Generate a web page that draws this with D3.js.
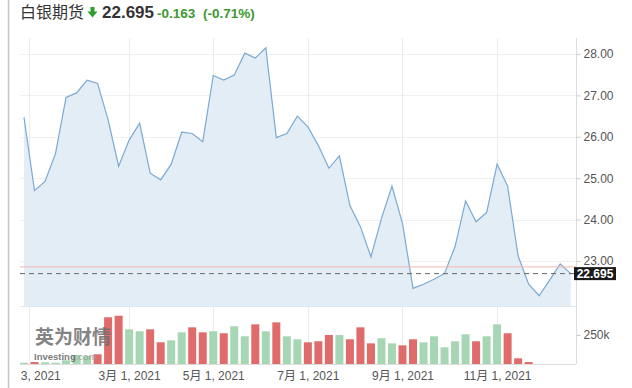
<!DOCTYPE html>
<meta charset="utf-8">
<style>
  body { margin: 0; background: #fff; }
  svg { display: block; }
</style>
<body>
<div id="chart"></div>
<script src="https://d3js.org/d3.v7.min.js"></script>
<script>
// weekly closes, silver futures 2021
var closes = [26.47, 24.70, 24.92, 25.60, 26.95, 27.06, 27.37, 27.29, 26.41, 25.29,
  25.92, 26.33, 25.12, 24.96, 25.34, 26.11, 26.08, 25.88, 27.48, 27.37,
  27.49, 28.02, 27.90, 28.15, 25.98, 26.08, 26.50, 26.24, 25.79, 25.24,
  25.54, 24.34, 23.83, 23.10, 24.03, 24.81, 23.91, 22.34, 22.44, 22.56,
  22.70, 23.35, 24.45, 23.95, 24.17, 25.34, 24.81, 23.12, 22.44, 22.16,
  22.54, 22.93, 22.695];

// weekly volume (contracts)
var volumes = [11000, 17000, 15000, 11000, 32000, 78000, 69000, 84000, 403000, 416000,
  299000, 282000, 299000, 187000, 204000, 273000, 316000, 273000, 282000, 265000,
  325000, 239000, 342000, 282000, 359000, 239000, 213000, 187000, 196000, 250000,
  250000, 213000, 316000, 178000, 222000, 178000, 161000, 213000, 187000, 239000,
  144000, 196000, 256000, 196000, 239000, 342000, 265000, 49000, 17000, 0,
  0, 0, 0];

var priceTicks = [23, 24, 25, 26, 27, 28];
var volTicks = [250000];
var dateTickIdx = [0.5, 10, 18, 27, 36, 45];
var dateTickLabels = ["1月 3, 2021", "3月 1, 2021", "5月 1, 2021", "7月 1, 2021", "9月 1, 2021", "11月 1, 2021"];

var lastPrice = 22.695;
var prevClose = 22.858;
var change = "-0.163";
var changePct = "(-0.71%)";
var title = "白银期货";

var W = 632, H = 388;
var left = 20, right = 576;
var priceTop = 38, priceBottom = 306, volBottom = 364;
var font = "'Liberation Sans', Arial, 'Noto Sans CJK SC', sans-serif";

var svg = d3.select("#chart").append("svg")
    .attr("width", W)
    .attr("height", H)
    .style("font-family", font);

// left page border
svg.append("line")
    .attr("x1", 8.5).attr("x2", 8.5)
    .attr("y1", 0).attr("y2", H)
    .attr("stroke", "#c4c4c4")
    .attr("stroke-width", 1.5);

// header
svg.append("text")
    .attr("x", 20).attr("y", 18)
    .attr("font-family", "'Noto Sans CJK SC', sans-serif")
    .attr("font-size", 16)
    .attr("fill", "#333")
    .text(title);
svg.append("path")
    .attr("d", "M90.5,7 h4 v4.5 h3 l-5,6 l-5,-6 h3 z")
    .attr("fill", "#2f9e2f");
svg.append("text")
    .attr("x", 102).attr("y", 18)
    .attr("font-size", 17).attr("font-weight", "bold")
    .attr("fill", "#333")
    .text(lastPrice.toFixed(3));
svg.append("text")
    .attr("x", 157).attr("y", 18)
    .attr("font-size", 13.5).attr("font-weight", "bold")
    .attr("fill", "#3c9a2f")
    .text(change);
svg.append("text")
    .attr("x", 203).attr("y", 18)
    .attr("font-size", 13.5).attr("font-weight", "bold")
    .attr("fill", "#3c9a2f")
    .text(changePct);

// scales
var x = d3.scaleLinear().domain([0, closes.length - 1]).range([24, 570.7]);
var y = d3.scaleLinear().domain([23, 28]).range([261, 54]);
var yv = d3.scaleLinear().domain([0, 500000]).range([volBottom, priceBottom]);

svg.append("clipPath").attr("id", "plot")
  .append("rect")
    .attr("x", left).attr("y", priceTop)
    .attr("width", right - left).attr("height", volBottom - priceTop);

var plot = svg.append("g").attr("clip-path", "url(#plot)");

// grid
plot.selectAll(".hgrid")
    .data(priceTicks)
    .enter().append("line")
    .attr("x1", left).attr("x2", right)
    .attr("y1", function(d) { return Math.round(y(d)) + 0.5; })
    .attr("y2", function(d) { return Math.round(y(d)) + 0.5; })
    .attr("stroke", "#f0f0f0");

plot.selectAll(".vgrid")
    .data(dateTickIdx)
    .enter().append("line")
    .attr("x1", function(d) { return Math.round(x(d)) + 0.5; })
    .attr("x2", function(d) { return Math.round(x(d)) + 0.5; })
    .attr("y1", priceTop).attr("y2", volBottom)
    .attr("stroke", "#ececec");

// price area
var area = d3.area()
    .x(function(d, i) { return x(i); })
    .y0(priceBottom)
    .y1(function(d) { return y(d); });

var line = d3.line()
    .x(function(d, i) { return x(i); })
    .y(function(d) { return y(d); });

plot.append("path")
    .datum(closes)
    .attr("d", area)
    .attr("fill", "#e3edf6");

plot.append("path")
    .datum(closes)
    .attr("d", line)
    .attr("fill", "none")
    .attr("stroke", "#7ba9d2")
    .attr("stroke-width", 1.2);

// previous close and last price lines
plot.append("line")
    .attr("x1", left).attr("x2", right)
    .attr("y1", y(prevClose)).attr("y2", y(prevClose))
    .attr("stroke", "#f4b6b6")
    .attr("stroke-width", 1);

plot.append("line")
    .attr("x1", left).attr("x2", right)
    .attr("y1", y(lastPrice)).attr("y2", y(lastPrice))
    .attr("stroke", "#666")
    .attr("stroke-width", 1)
    .attr("stroke-dasharray", "5,4");

// panel separator
svg.append("line")
    .attr("x1", left).attr("x2", right)
    .attr("y1", priceBottom + 0.5).attr("y2", priceBottom + 0.5)
    .attr("stroke", "#dfe6ee");

// volume bars
plot.selectAll(".vol")
    .data(volumes)
    .enter().append("rect")
    .attr("class", "vol")
    .attr("x", function(d, i) { return x(i) - 4; })
    .attr("width", 8)
    .attr("y", function(d) { return yv(d); })
    .attr("height", function(d) { return volBottom - yv(d); })
    .attr("fill", function(d, i) {
        return (i > 0 && closes[i] < closes[i - 1]) ? "#e06b6b" : "#a6d6b4";
    });

// watermark
var wm = svg.append("g").attr("opacity", 0.85);
wm.append("text")
    .attr("x", 35).attr("y", 344)
    .attr("font-family", "'Noto Sans CJK SC', sans-serif")
    .attr("font-size", 19).attr("font-weight", "bold")
    .attr("fill", "#6f6f6f")
    .text("英为财情");
wm.append("text")
    .attr("x", 34).attr("y", 360)
    .attr("font-size", 9.5).attr("font-weight", "bold")
    .attr("fill", "#666")
    .text("Investing")
  .append("tspan")
    .attr("font-weight", "normal")
    .attr("fill", "#999")
    .text(".com");

// axes frame
svg.append("line")
    .attr("x1", right + 0.5).attr("x2", right + 0.5)
    .attr("y1", priceTop).attr("y2", volBottom)
    .attr("stroke", "#ddd");
svg.append("line")
    .attr("x1", left).attr("x2", right)
    .attr("y1", volBottom + 0.5).attr("y2", volBottom + 0.5)
    .attr("stroke", "#ddd");

// right price axis
var yAxis = svg.append("g")
    .attr("transform", "translate(" + (right + 0.5) + ",0)")
    .call(d3.axisRight(y).tickValues(priceTicks).tickSize(4).tickPadding(3)
        .tickFormat(d3.format(".2f")));
var vAxis = svg.append("g")
    .attr("transform", "translate(" + (right + 0.5) + ",0)")
    .call(d3.axisRight(yv).tickValues(volTicks).tickSize(4).tickPadding(3)
        .tickFormat(function(d) { return (d / 1000) + "k"; }));
[yAxis, vAxis].forEach(function(a) {
    a.select(".domain").remove();
    a.selectAll(".tick line").attr("stroke", "#ccc");
    a.selectAll(".tick text")
        .attr("fill", "#555")
        .attr("font-size", 12)
        .attr("font-family", font);
});

// last price tag
var tag = svg.append("g").attr("transform", "translate(574," + y(lastPrice) + ")");
tag.append("rect")
    .attr("x", 0).attr("y", -6.5)
    .attr("width", 42).attr("height", 13)
    .attr("fill", "#1a1a1a");
tag.append("text")
    .attr("x", 21).attr("y", 4.5)
    .attr("text-anchor", "middle")
    .attr("font-size", 12).attr("font-weight", "bold")
    .attr("fill", "#fff")
    .text(lastPrice.toFixed(3));

// bottom date axis, clipped at the plot's left edge
svg.append("clipPath").attr("id", "xlab")
  .append("rect")
    .attr("x", left).attr("y", volBottom)
    .attr("width", W - left).attr("height", H - volBottom);

var xAxis = svg.append("g")
    .attr("clip-path", "url(#xlab)")
  .append("g")
    .attr("transform", "translate(0," + volBottom + ")")
    .call(d3.axisBottom(x).tickValues(dateTickIdx).tickSize(0).tickPadding(7)
        .tickFormat(function(d, i) { return dateTickLabels[i]; }));
xAxis.select(".domain").remove();
xAxis.selectAll(".tick text")
    .attr("fill", "#555")
    .attr("font-size", 12)
    .attr("font-family", font);
</script>
</body>
